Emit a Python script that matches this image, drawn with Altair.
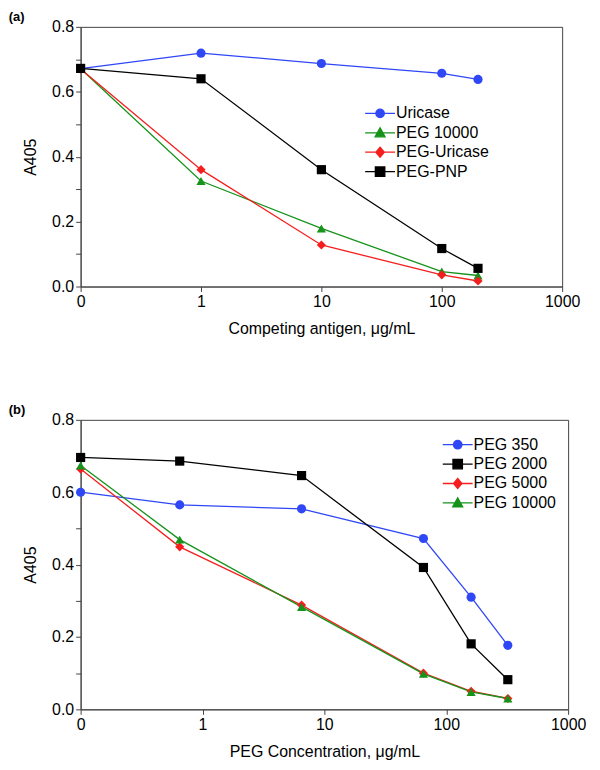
import altair as alt
import pandas as pd

FONT = "Liberation Sans"

# ---------------- Panel (a) data ----------------
conc_a = [0, 1, 10, 100, 200]
series_a = ["Uricase", "PEG 10000", "PEG-Uricase", "PEG-PNP"]
uricase = [0.671, 0.719, 0.687, 0.657, 0.638]
peg10000_a = [0.671, 0.325, 0.179, 0.046, 0.034]
peg_uricase = [0.670, 0.360, 0.128, 0.036, 0.017]
peg_pnp = [0.672, 0.640, 0.360, 0.117, 0.056]
colors_a = ["#2f47f5", "#15931a", "#f51e1e", "#000000"]
shapes_a = ["circle", "triangle-up", "diamond", "square"]

# ---------------- Panel (b) data ----------------
conc_b = [0, 0.65, 6.5, 65, 160, 320]
series_b = ["PEG 350", "PEG 2000", "PEG 5000", "PEG 10000"]
peg350 = [0.600, 0.565, 0.554, 0.472, 0.310, 0.177]
peg2000 = [0.696, 0.686, 0.646, 0.392, 0.181, 0.082]
peg5000 = [0.664, 0.449, 0.288, 0.100, 0.050, 0.030]
peg10000_b = [0.674, 0.469, 0.283, 0.098, 0.048, 0.030]
colors_b = ["#2f47f5", "#000000", "#f51e1e", "#15931a"]
shapes_b = ["circle", "square", "diamond", "triangle-up"]

y_ticks = [0, 0.1, 0.2, 0.3, 0.4, 0.5, 0.6, 0.7, 0.8]
x_ticks = [-1, 0, 1, 2, 3]

# legend symbol paths (line through marker)
PATHS = {
    "circle": "M-3,0H3M-0.85,0A0.85,0.85 0 1,0 0.85,0A0.85,0.85 0 1,0 -0.85,0Z",
    "square": "M-3,0H3M-0.95,-0.95H0.95V0.95H-0.95Z",
    "diamond": "M-3,0H3M0,-1L0.85,0L0,1L-0.85,0Z",
    "triangle-up": "M-3,0H3M0,-1L1,0.8H-1Z",
}


def long_df(conc, names, values):
    rows = []
    for name, vals in zip(names, values):
        for c, v in zip(conc, vals):
            rows.append({"conc": c, "a405": v, "series": name, "leg": name})
    return pd.DataFrame(rows)


def panel(df, names, colors, shapes, width, height, xtitle, label, legx, legy,
          ydx, ytpad):
    base = alt.Chart(df).transform_calculate(
        pos="datum.conc == 0 ? -1 : log(datum.conc) / LN10"
    )
    x = alt.X(
        "pos:Q",
        scale=alt.Scale(domain=[-1, 3], nice=False, zero=False),
        axis=alt.Axis(
            values=x_ticks,
            labelExpr="datum.value == -1 ? '0' : format(pow(10, datum.value), 'd')",
            title=xtitle,
            grid=False,
            tickSize=5,
            labelPadding=2,
            titlePadding=11,
            labelFlush=False,
        ),
    )
    y = alt.Y(
        "a405:Q",
        scale=alt.Scale(domain=[0, 0.8], nice=False),
        axis=alt.Axis(
            values=y_ticks,
            labelExpr="round(datum.value * 10) % 2 == 0 ? format(datum.value, '.1f') : ''",
            title="A405",
            grid=False,
            tickSize=5,
            labelPadding=2,
            titlePadding=ytpad,
            labelFlush=False,
        ),
    )
    cscale = alt.Scale(domain=names, range=colors)
    sscale = alt.Scale(domain=names, range=shapes)
    lines = base.mark_line(strokeWidth=1.3).encode(
        x=x, y=y, color=alt.Color("series:N", scale=cscale, legend=None),
        detail="series:N",
    )
    points = base.mark_point(filled=True, size=85, opacity=1).encode(
        x=x, y=y,
        color=alt.Color("series:N", scale=cscale, legend=None),
        shape=alt.Shape("series:N", scale=sscale, legend=None),
    )
    leg = alt.Legend(
        orient="none", legendX=legx, legendY=legy, title=None,
        symbolSize=100, symbolStrokeWidth=1.3, labelFontSize=16,
        labelFont=FONT, labelColor="#000", labelOffset=8, rowPadding=3.5,
        padding=0, symbolOpacity=1,
    )
    legend_layer = base.transform_filter("datum.a405 < -1").mark_point(
        filled=True, strokeWidth=1.3
    ).encode(
        x=x, y=y,
        fill=alt.Fill("leg:N", scale=alt.Scale(domain=names, range=colors), legend=leg),
        stroke=alt.Stroke("leg:N", scale=alt.Scale(domain=names, range=colors), legend=leg),
        shape=alt.Shape("leg:N", scale=alt.Scale(domain=names, range=[PATHS[s] for s in shapes]), legend=leg),
    )
    return alt.layer(lines, points, legend_layer).resolve_scale(
        color="independent", shape="independent", fill="independent", stroke="independent"
    ).properties(
        width=width, height=height,
        title=alt.TitleParams(label, anchor="start", frame="bounds", fontSize=13,
                              fontWeight="bold", font=FONT, offset=-5, dx=ydx, color="#000"),
    )


df_a = long_df(conc_a, series_a, [uricase, peg10000_a, peg_uricase, peg_pnp])
df_b = long_df(conc_b, series_b, [peg350, peg2000, peg5000, peg10000_b])

pa = panel(df_a, series_a, colors_a, shapes_a, 484, 261,
           "Competing antigen, \u03bcg/mL", "(a)", 293, 79, -14, 13)
pb = panel(df_b, series_b, colors_b, shapes_b, 490, 291,
           "PEG Concentration, \u03bcg/mL", "(b)", 371, 17, -14, 13)

chart = alt.vconcat(pa, pb, spacing=66).properties(
    padding={"left": 0, "top": 0, "right": 5, "bottom": 5}
).configure_view(stroke="#444", strokeWidth=1).configure_axis(
    labelFont=FONT, titleFont=FONT, labelFontSize=16, titleFontSize=16,
    labelColor="#000", titleColor="#000", titleFontWeight="normal",
    domainColor="#444", tickColor="#444", domainWidth=1, tickWidth=1,
)

chart.save("out.html", embed_options={"renderer": "svg", "actions": False})
